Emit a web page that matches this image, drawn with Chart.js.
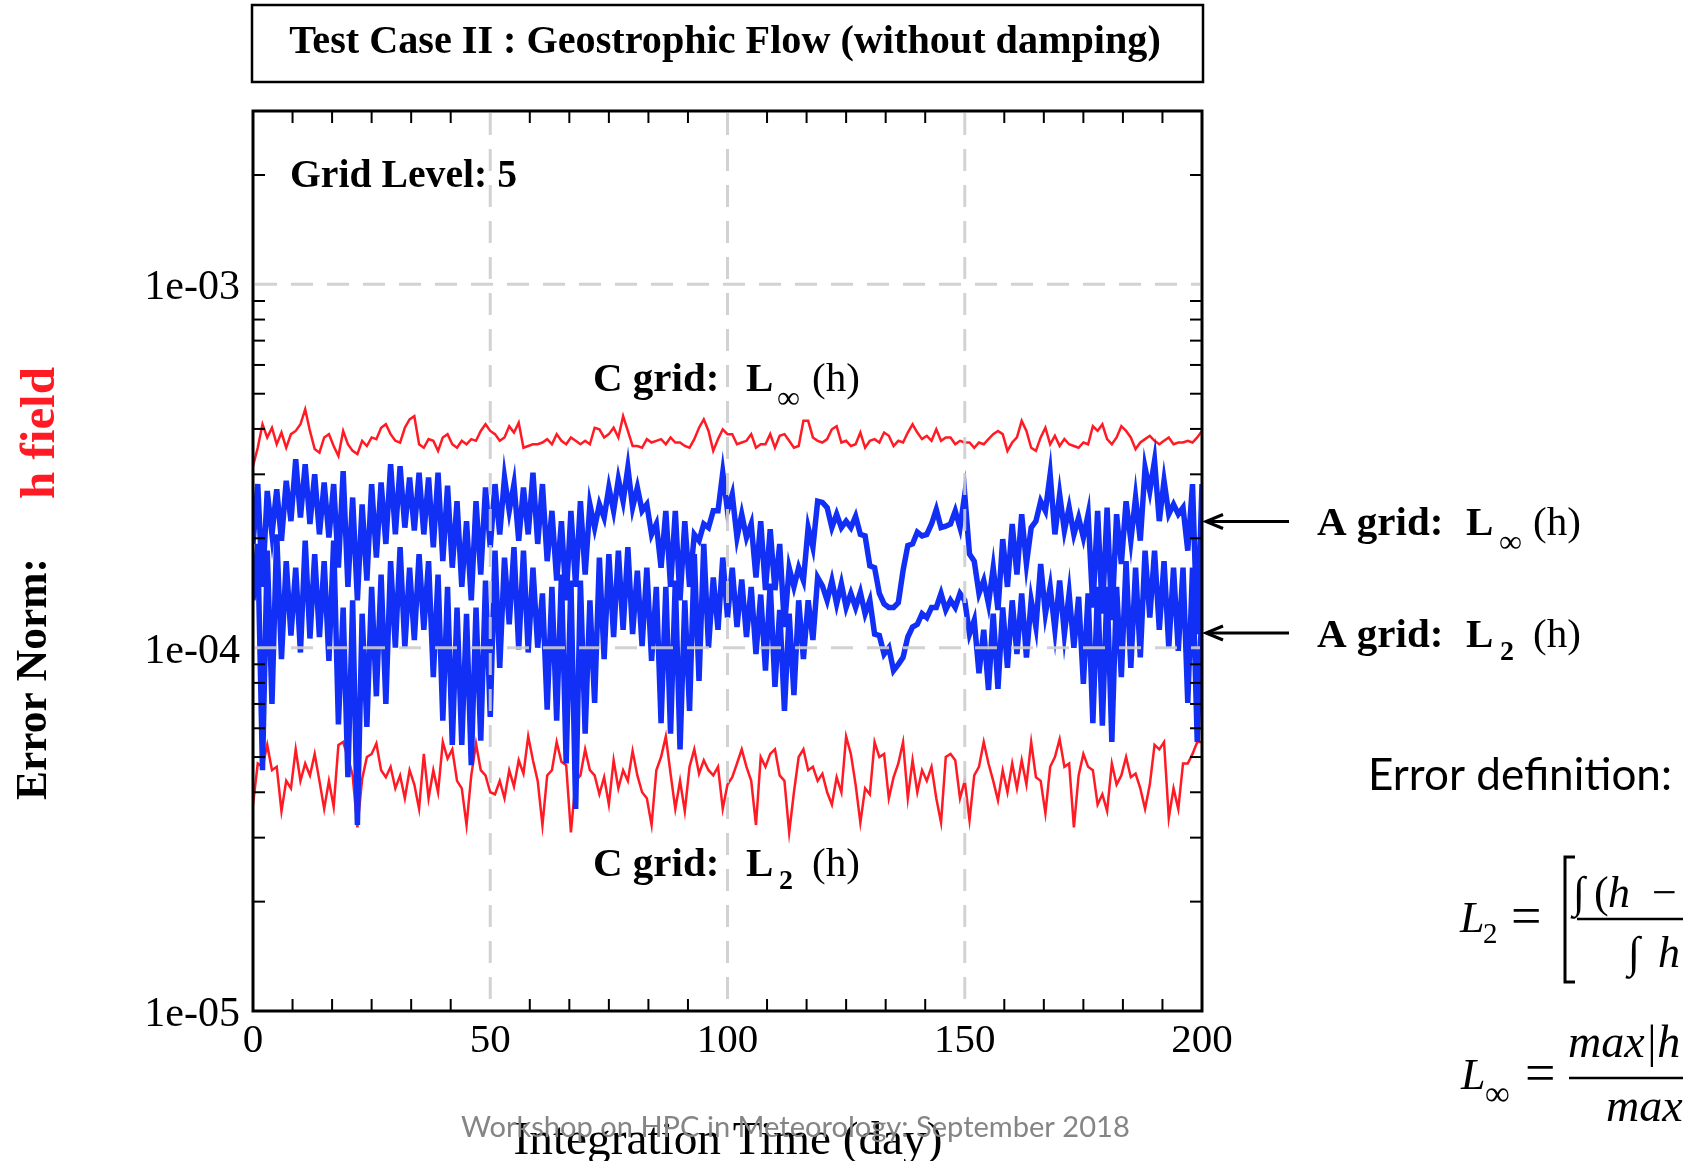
<!DOCTYPE html>
<html>
<head>
<meta charset="utf-8">
<title>Test Case II : Geostrophic Flow (without damping)</title>
<script src="https://cdn.jsdelivr.net/npm/chart.js@4.4.1/dist/chart.umd.min.js"></script>
<style>
  html, body { margin: 0; padding: 0; background: #fff; }
  #wrap { width: 1683px; height: 1161px; }
</style>
</head>
<body>
<div id="wrap"><canvas id="errChart" width="1683" height="1161"></canvas></div>
<script>
'use strict';

// error norms of the h field, one value per day (day 0 .. 200), in units of 1e-5
const UNIT = 1e-5;

// C grid : L_inf (h)
const cGridLinf = [
  31.6, 35.5, 41.2, 37.9, 40.3, 36.3, 39.1, 35.5, 38.7, 39.5, 41.2, 45.3, 39.5, 35.2, 34.4, 37.9, 38.7,
  35.9, 33.7, 39.5, 36.3, 34.8, 34.1, 37.1, 35.9, 37.9, 37.5, 40.3, 41.2, 38.7, 37.1, 36.7, 40.3, 42.5,
  43.4, 36.3, 35.5, 37.5, 37.1, 34.8, 37.9, 38.7, 36.3, 35.5, 37.1, 36.3, 37.5, 37.1, 39.5, 41.2, 39.5,
  38.7, 37.1, 37.9, 40.7, 39.1, 41.6, 35.5, 35.9, 36.3, 36.3, 36.7, 37.5, 36.3, 38.7, 37.1, 36.3, 37.9,
  37.1, 36.3, 37.1, 36.3, 40.3, 39.9, 37.9, 38.7, 40.3, 37.9, 43.4, 39.5, 35.9, 35.9, 35.5, 37.5, 36.7,
  37.1, 37.5, 36.3, 37.9, 36.7, 36.7, 35.9, 35.5, 37.5, 40.3, 42.5, 39.5, 34.8, 37.5, 39.9, 38.7,
  38.7, 36.3, 36.7, 37.1, 38.7, 35.5, 36.3, 36.3, 38.7, 35.5, 38.3, 38.7, 37.1, 35.5, 35.9, 42.1, 42.1,
  37.9, 37.1, 36.7, 37.5, 39.9, 40.7, 36.7, 37.1, 35.9, 36.3, 39.1, 35.5, 37.1, 37.5, 36.7, 39.1, 38.3,
  35.9, 37.1, 36.7, 39.1, 41.2, 39.1, 37.5, 38.3, 37.1, 39.9, 37.1, 37.9, 37.9, 36.3, 37.1, 36.7,
  36.7, 35.5, 36.7, 36.3, 37.5, 38.7, 39.5, 38.7, 34.8, 36.7, 37.9, 42.1, 39.5, 35.5, 34.8, 37.9, 40.3,
  36.3, 38.3, 35.9, 37.5, 36.3, 35.9, 35.5, 36.7, 36.3, 40.7, 39.5, 41.2, 37.5, 36.3, 37.9, 40.7, 39.5,
  37.9, 35.2, 36.7, 37.5, 38.3, 37.1, 36.3, 37.1, 37.9, 36.3, 36.7, 36.7, 37.1, 36.7, 37.9, 39.5
];

// C grid : L_2 (h)
const cGridL2 = [
  3.7, 4.8, 4.7, 5.4, 4.6, 4.7, 3.55, 4.3, 4.1, 5.25, 4.3, 4.8, 4.45, 5.1, 4.3, 3.6, 4.3, 3.65, 5.4,
  5.5, 5.0, 4.45, 3.2, 4.35, 5.0, 5.1, 5.45, 4.6, 4.4, 4.7, 4.1, 4.45, 3.85, 4.6, 4.2, 3.6, 5.1, 3.85,
  4.6, 4.0, 5.5, 4.95, 5.25, 4.3, 4.1, 3.25, 4.45, 5.45, 4.6, 4.45, 4.0,
  3.95, 4.3, 3.85, 4.6, 4.15, 4.9, 4.5, 5.7, 4.9, 4.3, 3.25, 4.45, 4.6, 5.5, 4.85, 4.75, 3.1, 4.3,
  4.45, 5.25, 4.6, 4.45, 3.95, 4.4, 3.7, 4.9, 4.1, 4.6, 4.3, 5.2, 4.45, 4.0, 3.85, 3.25, 4.6, 5.0, 5.7,
  4.5, 3.6, 4.3, 3.55, 4.7, 5.25, 4.5, 4.9, 4.6, 4.45, 4.7, 3.6, 4.2,
  4.4, 4.8, 5.25, 4.7, 4.3, 3.25, 5.0, 4.7, 5.1, 5.25, 4.45, 4.3, 3.1, 4.0, 5.0, 5.25, 4.6, 4.7, 4.3,
  4.5, 4.0, 3.7, 4.4, 4.0, 5.7, 5.1, 4.2, 3.3, 4.1, 3.95, 5.5, 5.0, 5.1, 3.85, 4.4, 4.8, 5.5, 3.85, 4.9,
  4.0, 4.6, 4.3, 4.7, 3.85, 3.3, 5.0, 5.1, 4.9, 3.85, 4.3,
  3.35, 4.45, 4.7, 5.5, 4.8, 4.3, 3.8, 4.6, 4.0, 4.8, 4.1, 4.9, 4.2, 5.5, 4.4, 4.3, 3.5, 4.7, 5.0, 5.6,
  4.7, 4.8, 3.2, 4.45, 5.1, 4.7, 4.6, 3.7, 3.95, 3.55, 4.8, 4.2, 4.45, 5.0, 4.4, 4.5, 4.1, 3.6, 4.2, 5.4,
  5.25, 5.5, 3.4, 4.1, 3.6, 4.8, 4.8, 5.1, 5.5, 5.5
];

// A grid : L_inf (h)
const aGridLinf = [
  19.3, 28.2, 14.7, 27.0, 20.5, 27.3, 19.7, 28.8, 22.3, 33.0, 22.8, 32.0, 21.9, 30.0, 20.5, 28.5, 20.1,
  28.2, 16.6, 30.6, 14.7, 25.9, 13.5, 24.8, 15.3, 28.2, 17.7, 28.5, 19.3, 32.0, 20.5, 31.6, 21.4, 29.4,
  21.0, 30.3, 20.5, 29.4, 18.9, 30.3, 17.3, 27.9, 16.6, 25.3, 14.7, 22.3, 13.5, 25.3, 15.9, 27.6, 18.9,
  28.2, 20.5, 29.4, 23.8, 28.2, 19.7, 27.6, 20.5, 30.3, 19.3, 28.2, 17.3, 23.8, 15.3, 22.3, 13.5, 23.8,
  14.7, 25.3, 15.9, 24.8, 21.4, 24.8, 22.8, 27.6, 23.8, 29.1, 25.3, 31.3, 24.3, 27.6, 23.8, 24.8, 20.5,
  21.9, 16.6, 23.8, 14.7, 23.8, 13.5, 22.3, 14.7, 20.5, 19.7, 21.9, 21.4, 23.8, 23.8, 30.3, 23.8,
  26.4, 20.1, 23.3, 20.1, 21.9, 15.6, 22.3, 14.4, 21.2, 14.4, 19.3, 11.4, 16.6, 14.7, 16.6, 15.3, 21.4,
  18.9, 25.3, 25.1, 24.3, 21.4, 23.3, 21.4, 22.3, 21.4, 23.0, 20.5, 20.3, 16.8, 16.6, 14.1, 13.2, 12.9,
  12.9, 13.3, 16.3, 19.1, 19.3, 20.8, 20.3, 20.5, 21.9, 24.0, 21.4, 21.6, 21.9, 23.8, 21.4, 26.4,
  18.1, 17.3, 14.1, 15.3, 13.2, 16.6, 12.7, 19.9, 14.7, 21.9, 15.9, 23.3, 17.0, 21.4, 22.3, 25.3, 23.8,
  30.0, 20.5, 26.4, 21.0, 24.3, 20.5, 22.8, 20.1, 23.3, 12.9, 23.8, 12.4, 24.3, 11.9, 23.3, 17.0, 25.3,
  19.7, 25.9, 19.7, 31.3, 27.0, 32.7, 22.3, 28.8, 23.3, 24.8, 23.3, 24.3, 18.5, 28.2, 10.9, 28.2
];

// A grid : L_2 (h)
const aGridL2 = [
  13.5, 19.3, 4.6, 18.5, 7.0, 20.5, 9.3, 17.3, 10.8, 16.6, 9.7, 19.7, 10.6, 18.1, 10.7, 17.3, 9.2,
  19.7, 6.15, 12.9, 4.4, 13.5, 3.25, 12.4, 6.05, 14.7, 7.35, 15.9, 7.0, 17.3, 10.0, 18.9, 10.0, 16.6,
  10.5, 18.1, 11.2, 17.3, 8.3, 15.9, 6.3, 14.7, 5.4, 12.9, 5.4, 12.4, 4.75, 12.9, 5.55, 15.3, 6.45,
  18.5, 8.8, 17.7, 11.6, 18.9, 9.9, 18.5, 9.7, 16.6, 10.0, 14.1, 6.75, 14.7, 6.3, 15.9, 4.8, 15.3, 3.6,
  15.3, 5.8, 13.5, 7.05, 17.7, 9.3, 18.1, 10.7, 18.5, 11.2, 18.9, 10.9, 16.3, 10.1, 16.6, 9.2, 14.7,
  6.2, 14.7, 5.8, 15.3, 5.25, 13.5, 6.7, 18.1, 8.1, 19.3, 10.0, 15.6, 11.2, 17.7, 12.1,
  16.6, 11.4, 15.4, 10.7, 14.7, 9.6, 14.0, 8.65, 15.0, 7.8, 12.7, 6.7, 12.4, 7.4, 13.5, 9.3, 13.5, 10.5,
  15.6, 14.8, 13.5, 15.3, 13.2, 15.0, 12.9, 14.1, 12.9, 14.2, 12.4, 13.5, 10.9, 10.8, 9.6, 10.0, 8.65,
  9.0, 9.4, 10.7, 11.4, 11.6, 12.4, 12.1, 12.9, 12.9, 14.1, 12.7, 13.5, 12.9, 14.1, 13.5,
  10.9, 11.9, 8.5, 11.2, 7.65, 12.4, 7.7, 12.9, 8.8, 13.5, 9.6, 14.1, 9.4, 13.5, 11.4, 17.0, 12.4, 14.7,
  11.2, 15.3, 10.9, 14.1, 10.0, 13.8, 7.95, 14.1, 6.2, 14.7, 6.1, 14.7, 5.5, 14.7, 8.3, 17.3, 8.8, 16.6,
  9.4, 18.5, 12.1, 18.5, 11.2, 17.3, 10.0, 16.6, 9.8, 16.6, 7.05, 16.6, 5.5, 13.5
];

// axes
const xTickValues = [0, 50, 100, 150, 200];
const yTickValues = [1e-5, 1e-4, 1e-3];
const yTickLabels = ['1e-05', '1e-04', '1e-03'];
const xGridAt = [50, 100, 150];
const yGridAt = [1e-4, 1e-3];

const RED = '#ff1a24';
const BLUE = '#1230f5';
const SERIF = '"Liberation Serif", "Times New Roman", serif';

function series(vals) {
  return vals.map((v, day) => ({ x: day, y: v * UNIT }));
}

function line(ctx, x0, y0, x1, y1) {
  ctx.beginPath();
  ctx.moveTo(x0, y0);
  ctx.lineTo(x1, y1);
  ctx.stroke();
}

// sets a font so that the text spans the given width, then draws it
function fitText(ctx, s, weight, family, width, x, y, align) {
  ctx.font = weight + ' 100px ' + family;
  const size = 100 * width / ctx.measureText(s).width;
  ctx.font = weight + ' ' + size.toFixed(2) + 'px ' + family;
  ctx.textAlign = align || 'left';
  ctx.fillText(s, x, y);
}

function rich(ctx, parts, y) {
  ctx.textAlign = 'left';
  parts.forEach(p => {
    ctx.font = p.f;
    ctx.fillStyle = p.c || '#000';
    ctx.fillText(p.t, p.x, y + (p.dy || 0));
  });
}

function arrow(ctx, xTail, xHead, y) {
  ctx.lineWidth = 3;
  line(ctx, xTail, y, xHead + 2, y);
  ctx.beginPath();
  ctx.moveTo(xHead + 17, y - 7);
  ctx.lineTo(xHead, y);
  ctx.lineTo(xHead + 17, y + 7);
  ctx.stroke();
}

const decor = {
  id: 'decor',
  afterDatasetsDraw(chart) {
    const { ctx, chartArea: a, scales: { x, y } } = chart;
    ctx.save();
    // dashed grid sits on top of the curves in the original
    ctx.strokeStyle = 'rgba(205,205,205,0.9)';
    ctx.lineWidth = 3;
    ctx.setLineDash([22, 14]);
    xGridAt.forEach(v => {
      const px = x.getPixelForValue(v);
      line(ctx, px, a.top + 2, px, a.bottom - 2);
    });
    yGridAt.forEach(v => {
      const py = y.getPixelForValue(v);
      line(ctx, a.left + 2, py, a.right - 2, py);
    });
    ctx.setLineDash([]);

    // inward minor ticks on all four sides
    ctx.strokeStyle = '#000';
    ctx.lineWidth = 2;
    for (let i = 1; i < 24; i++) {
      if (i % 6 === 0) continue;
      const px = x.getPixelForValue(i * 200 / 24);
      line(ctx, px, a.bottom, px, a.bottom - 12);
      line(ctx, px, a.top, px, a.top + 12);
    }
    yTickValues.forEach(dec => {
      for (let m = 2; m <= 9; m++) {
        const v = m * dec;
        if (v > y.max) break;
        const py = y.getPixelForValue(v);
        line(ctx, a.left, py, a.left + 12, py);
        line(ctx, a.right, py, a.right - 12, py);
      }
    });

    ctx.lineWidth = 3;
    ctx.strokeRect(a.left, a.top, a.right - a.left, a.bottom - a.top);
    ctx.restore();
  },
  afterDraw(chart) {
    const ctx = chart.ctx;
    ctx.save();
    ctx.fillStyle = '#000';
    ctx.strokeStyle = '#000';
    ctx.textBaseline = 'alphabetic';

    // title box
    ctx.lineWidth = 2.5;
    ctx.strokeRect(252, 5, 951, 77);
    fitText(ctx, 'Test Case II : Geostrophic Flow (without damping)', 'bold', SERIF, 872, 725, 53, 'center');

    // notes inside the plot
    fitText(ctx, 'Grid Level: 5', 'bold', SERIF, 227, 290, 187);
    const B = 'bold 41px ' + SERIF, R = '41px ' + SERIF, INF = '32px ' + SERIF, SUBB = 'bold 28px ' + SERIF;
    rich(ctx, [
      { t: 'C grid:', f: B, x: 593 }, { t: 'L', f: B, x: 746 },
      { t: '\u221E', f: INF, x: 777, dy: 17 }, { t: '(h)', f: R, x: 812 }
    ], 391);
    rich(ctx, [
      { t: 'C grid:', f: B, x: 593 }, { t: 'L', f: B, x: 746 },
      { t: '2', f: SUBB, x: 779, dy: 13 }, { t: '(h)', f: R, x: 812 }
    ], 876);

    // labels right of the frame
    rich(ctx, [
      { t: 'A grid:', f: B, x: 1317 }, { t: 'L', f: B, x: 1466 },
      { t: '\u221E', f: INF, x: 1499, dy: 17 }, { t: '(h)', f: R, x: 1533 }
    ], 535);
    rich(ctx, [
      { t: 'A grid:', f: B, x: 1317 }, { t: 'L', f: B, x: 1466 },
      { t: '2', f: SUBB, x: 1500, dy: 13 }, { t: '(h)', f: R, x: 1533 }
    ], 647);
    ctx.fillStyle = '#000';
    arrow(ctx, 1289, 1206, 521.5);
    arrow(ctx, 1289, 1206, 633);

    // axis titles
    fitText(ctx, 'Integration Time (day)', 'normal', SERIF, 429, 728, 1154, 'center');
    ctx.save();
    ctx.translate(46, 800);
    ctx.rotate(-Math.PI / 2);
    fitText(ctx, 'Error Norm:', 'bold', SERIF, 242, 0, 0, 'left');
    ctx.restore();
    ctx.save();
    ctx.translate(54, 499);
    ctx.rotate(-Math.PI / 2);
    ctx.fillStyle = RED;
    fitText(ctx, 'h field', 'bold', SERIF, 132, 0, 0, 'left');
    ctx.restore();

    // error definition, cut by the right edge as in the slide
    ctx.fillStyle = '#000';
    fitText(ctx, 'Error definition:', 'normal', 'Lato, "Open Sans", sans-serif', 304, 1368, 790, 'left');
    const MI = 'italic 44px ' + SERIF, MI2 = 'italic 46px ' + SERIF, MEQ = '54px ' + SERIF;
    const MS = '29px ' + SERIF, MINF = '35px ' + SERIF, MR = '44px ' + SERIF;
    rich(ctx, [
      { t: 'L', f: MI, x: 1460 }, { t: '2', f: MS, x: 1483, dy: 11 }, { t: '=', f: MEQ, x: 1511, dy: 2 }
    ], 932);
    ctx.lineWidth = 3;
    ctx.beginPath();
    ctx.moveTo(1575, 857); ctx.lineTo(1565, 857); ctx.lineTo(1565, 982); ctx.lineTo(1575, 982);
    ctx.stroke();
    ctx.lineWidth = 2.5;
    line(ctx, 1577, 919, 1690, 919);
    rich(ctx, [
      { t: '\u222B', f: MI, x: 1573 }, { t: '(', f: MR, x: 1594 },
      { t: 'h', f: MI, x: 1608 }, { t: '\u2212', f: MR, x: 1652 }
    ], 907);
    rich(ctx, [{ t: '\u222B', f: MI, x: 1628 }, { t: 'h', f: MI, x: 1658 }], 967);
    rich(ctx, [
      { t: 'L', f: MI, x: 1461 }, { t: '\u221E', f: MINF, x: 1485, dy: 16 }, { t: '=', f: MEQ, x: 1525, dy: 2 }
    ], 1089);
    line(ctx, 1569, 1078, 1690, 1078);
    rich(ctx, [{ t: 'max|h', f: MI2, x: 1568 }], 1057);
    rich(ctx, [{ t: 'max', f: MI2, x: 1606 }], 1121);

    // slide footer drawn over the axis title
    ctx.fillStyle = '#858585';
    fitText(ctx, 'Workshop on HPC in Meteorology: September 2018', 'normal', 'Lato, "Open Sans", sans-serif', 669, 461, 1137, 'left');
    ctx.restore();
  }
};

new Chart(document.getElementById('errChart').getContext('2d'), {
  type: 'line',
  data: {
    datasets: [
      { label: 'A grid: L_inf (h)', data: series(aGridLinf), borderColor: BLUE, borderWidth: 5.5 },
      { label: 'A grid: L_2 (h)', data: series(aGridL2), borderColor: BLUE, borderWidth: 5.5 },
      { label: 'C grid: L_inf (h)', data: series(cGridLinf), borderColor: RED, borderWidth: 2.5 },
      { label: 'C grid: L_2 (h)', data: series(cGridL2), borderColor: RED, borderWidth: 2.5 }
    ]
  },
  options: {
    responsive: false,
    animation: false,
    layout: { padding: { left: 120, right: 481, top: 111, bottom: 90 } },
    elements: {
      point: { radius: 0 },
      line: { tension: 0, fill: false }
    },
    plugins: {
      legend: { display: false },
      tooltip: { enabled: false }
    },
    scales: {
      x: {
        type: 'linear',
        min: 0,
        max: 200,
        afterBuildTicks: (s) => { s.ticks = xTickValues.map(v => ({ value: v })); },
        afterFit: (s) => { s.height = 60; },
        ticks: {
          color: '#000',
          font: { family: 'Liberation Serif', size: 41 },
          padding: 6,
          maxRotation: 0,
          autoSkip: false
        },
        grid: { display: false, drawTicks: false },
        border: { display: false }
      },
      y: {
        type: 'logarithmic',
        min: 1e-5,
        max: 3e-3,
        afterBuildTicks: (s) => { s.ticks = yTickValues.map(v => ({ value: v })); },
        afterFit: (s) => { s.width = 133; },
        ticks: {
          color: '#000',
          font: { family: 'Liberation Serif', size: 42 },
          padding: 13,
          labelOffset: 4,
          autoSkip: false,
          callback: (v) => {
            const i = yTickValues.findIndex(t => Math.abs(t - v) / t < 1e-6);
            return i >= 0 ? yTickLabels[i] : '';
          }
        },
        grid: { display: false, drawTicks: false },
        border: { display: false }
      }
    }
  },
  plugins: [decor]
});
</script>
</body>
</html>
